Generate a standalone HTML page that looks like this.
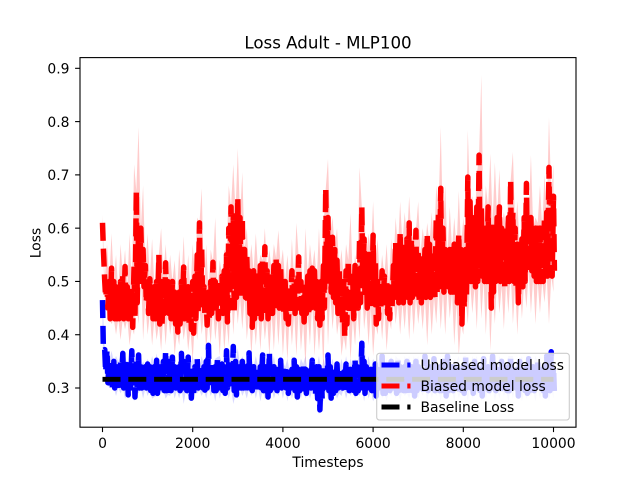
<!DOCTYPE html>
<html>
<head>
<meta charset="utf-8">
<title>Loss Adult - MLP100</title>
<style>
html,body{margin:0;padding:0;background:#fff;width:640px;height:480px;overflow:hidden}
svg{display:block}
text{font-family:"DejaVu Sans","Liberation Sans",sans-serif;fill:#000}
</style>
</head>
<body>
<svg id="chart" xmlns="http://www.w3.org/2000/svg" width="640" height="480" viewBox="0 0 640 480">
  <rect x="0" y="0" width="640" height="480" fill="#fff"/>
  <text x="328" y="48.5" font-size="16.67" text-anchor="middle">Loss Adult - MLP100</text>
  <text x="328" y="467" font-size="13.89" text-anchor="middle">Timesteps</text>
  <text transform="translate(40.5,243) rotate(-90)" font-size="13.89" text-anchor="middle">Loss</text>
  <g id="bands"></g>
  <g id="lines"></g>
  <g id="axes"></g>
  <g>
    <rect x="376.7" y="353.3" width="192.6" height="66.7" rx="2.8" fill="#fff" fill-opacity="0.8" stroke="#ccc" stroke-width="1.1"/>
    <g>
      <path d="M381.5 365H410.5" stroke="#00f" stroke-width="4.9" stroke-dasharray="18 7.8" fill="none"/>
      <text x="420.5" y="370" font-size="13.89">Unbiased model loss</text>
    </g>
    <g>
      <path d="M381.5 386H410.5" stroke="#f00" stroke-width="4.9" stroke-dasharray="18 7.8" fill="none"/>
      <text x="420.5" y="391" font-size="13.89">Biased model loss</text>
    </g>
    <g>
      <path d="M381.5 407H410.5" stroke="#000" stroke-width="4.9" stroke-dasharray="18 7.8" fill="none"/>
      <text x="420.5" y="412" font-size="13.89">Baseline Loss</text>
    </g>
  </g>
</svg>
<script>
const xTicks = [0, 2000, 4000, 6000, 8000, 10000];
const yTicks = [0.3, 0.4, 0.5, 0.6, 0.7, 0.8, 0.9];
const yTickLabels = ["0.3", "0.4", "0.5", "0.6", "0.7", "0.8", "0.9"];
const lineStep = 50;
const baselineValue = 0.3163;
const baselineSpan = [0, 10000];
const biasedHigh = [
.61,.50,.49,.50,.525,.50,.49,.48,.50,.51,.528,.49,.48,.49,.53,.67,.60,.60,.56,.53,
.505,.505,.49,.49,.50,.55,.50,.51,.535,.50,.48,.50,.48,.47,.48,.50,.527,.48,.49,.48,
.50,.51,.55,.61,.56,.49,.47,.48,.50,.536,.50,.49,.50,.51,.52,.55,.60,.64,.62,.63,
.658,.62,.62,.56,.55,.52,.51,.52,.51,.52,.53,.54,.565,.52,.50,.52,.53,.544,.53,.53,
.50,.50,.47,.49,.52,.50,.50,.546,.50,.47,.50,.51,.52,.525,.52,.50,.48,.50,.53,.675,
.62,.59,.583,.56,.54,.52,.50,.50,.52,.54,.51,.50,.53,.52,.58,.64,.58,.55,.56,.55,
.587,.54,.50,.50,.52,.51,.50,.49,.50,.53,.574,.56,.593,.57,.55,.58,.61,.58,.56,.596,
.56,.55,.54,.56,.59,.57,.54,.56,.62,.63,.675,.60,.56,.55,.56,.56,.57,.56,.59,.56,
.55,.56,.696,.65,.62,.60,.64,.737,.64,.60,.60,.64,.60,.61,.60,.62,.64,.60,.56,.60,
.62,.69,.63,.60,.57,.56,.58,.62,.684,.62,.62,.60,.60,.61,.60,.60,.62,.63,.714,.66,.66
];
const biasedLow = [
.56,.47,.45,.43,.44,.43,.43,.43,.44,.43,.44,.43,.43,.414,.43,.46,.50,.53,.49,.46,
.44,.44,.43,.43,.43,.42,.42,.44,.45,.44,.43,.43,.42,.405,.42,.43,.43,.42,.42,.41,
.403,.43,.44,.45,.46,.44,.418,.43,.44,.45,.45,.43,.45,.44,.44,.424,.45,.49,.44,.47,
.50,.47,.48,.47,.46,.44,.414,.43,.44,.44,.43,.44,.44,.43,.44,.44,.45,.45,.45,.45,
.44,.43,.42,.44,.45,.44,.45,.45,.44,.424,.44,.44,.45,.46,.45,.43,.418,.43,.45,.52,
.49,.48,.47,.46,.44,.43,.42,.396,.42,.44,.44,.43,.45,.45,.46,.50,.47,.45,.46,.45,
.46,.42,.43,.45,.46,.45,.44,.43,.45,.47,.47,.46,.48,.46,.47,.47,.46,.47,.47,.47,
.46,.46,.47,.47,.48,.47,.47,.47,.48,.49,.50,.48,.49,.49,.48,.48,.48,.46,.47,.42,
.45,.47,.49,.50,.50,.49,.50,.53,.51,.50,.50,.50,.45,.48,.50,.51,.50,.49,.49,.50,
.50,.52,.50,.49,.46,.50,.49,.50,.52,.52,.52,.51,.50,.50,.50,.50,.51,.51,.54,.51,.52
];
const unbiasedHigh = [
.465,.372,.372,.35,.35,.35,.34,.35,.35,.365,.35,.34,.35,.37,.35,.35,.362,.34,.34,.34,
.345,.34,.33,.34,.352,.34,.34,.35,.37,.35,.35,.358,.34,.33,.34,.365,.35,.34,.358,.34,
.33,.34,.355,.34,.34,.34,.35,.38,.35,.34,.34,.358,.34,.345,.34,.37,.35,.35,.378,.35,
.34,.34,.35,.34,.34,.366,.34,.34,.34,.34,.34,.362,.34,.34,.367,.34,.34,.335,.335,.352,
.34,.34,.33,.33,.335,.352,.34,.335,.33,.345,.335,.33,.34,.352,.34,.34,.34,.33,.34,.34,
.362,.34,.335,.33,.345,.335,.335,.33,.345,.335,.335,.34,.355,.34,.335,.384,.35,.34,.33,.335,
.335,.345,.335,.34,.36,.34,.335,.34,.35,.335,.335,.355,.34,.335,.34,.35,.34,.34,.335,.35,
.34,.335,.34,.36,.34,.34,.335,.355,.34,.335,.34,.35,.34,.36,.34,.34,.335,.35,.34,.335,
.34,.36,.34,.34,.335,.35,.34,.335,.34,.355,.34,.34,.335,.36,.34,.335,.34,.35,.34,.335,
.34,.36,.34,.34,.335,.35,.34,.335,.34,.355,.34,.34,.335,.35,.34,.335,.34,.36,.34,.368,.34
];
const unbiasedLow = [
.37,.33,.31,.30,.30,.30,.296,.30,.30,.30,.30,.287,.30,.30,.283,.295,.30,.30,.30,.30,
.30,.295,.29,.283,.29,.30,.30,.295,.295,.287,.295,.30,.30,.295,.295,.30,.30,.295,.29,.281,
.29,.30,.30,.295,.30,.296,.30,.30,.30,.295,.295,.30,.30,.295,.29,.30,.30,.30,.295,.287,
.30,.30,.30,.295,.30,.30,.295,.30,.29,.30,.30,.295,.29,.283,.295,.30,.30,.295,.30,.30,
.295,.30,.29,.30,.30,.295,.283,.295,.29,.30,.29,.30,.30,.295,.285,.28,.259,.28,.295,.295,
.295,.281,.29,.295,.30,.29,.30,.30,.295,.295,.30,.295,.29,.295,.30,.30,.29,.30,.295,.295,
.295,.285,.30,.295,.29,.29,.30,.295,.30,.295,.29,.295,.30,.295,.295,.29,.30,.295,.285,.295,
.30,.295,.29,.30,.295,.30,.29,.295,.30,.295,.295,.30,.285,.295,.30,.295,.295,.30,.29,.295,
.29,.30,.295,.30,.29,.295,.30,.295,.285,.295,.30,.295,.295,.30,.295,.295,.29,.30,.295,.295,
.295,.30,.295,.30,.285,.295,.30,.295,.29,.295,.30,.295,.295,.30,.295,.295,.285,.30,.295,.30,.29
];
const biasedUpper = [
.625,.57,.59,.55,.57,.56,.59,.72,.79,.68,.59,.58,.55,.60,.57,.55,.54,.56,.585,.55,
.57,.62,.675,.57,.56,.62,.54,.56,.68,.72,.75,.705,.60,.57,.59,.55,.60,.56,.57,.596,
.56,.55,.58,.61,.55,.60,.57,.56,.60,.60,.73,.62,.60,.56,.57,.628,.55,.714,.63,.59,
.65,.58,.55,.57,.58,.62,.65,.63,.66,.59,.65,.60,.61,.63,.68,.79,.68,.64,.62,.67,
.62,.784,.66,.70,.887,.68,.74,.724,.71,.63,.66,.743,.65,.62,.66,.737,.62,.68,.70,.808,.72
];
const biasedLower = [
.59,.46,.42,.40,.39,.41,.38,.40,.42,.39,.40,.38,.39,.37,.38,.40,.36,.38,.39,.37,
.35,.39,.40,.37,.38,.39,.36,.37,.38,.40,.42,.41,.39,.36,.38,.37,.39,.36,.37,.38,
.36,.35,.38,.36,.37,.34,.38,.36,.37,.33,.38,.41,.40,.36,.37,.35,.38,.39,.41,.38,
.36,.40,.39,.37,.41,.42,.40,.41,.39,.40,.42,.41,.38,.40,.42,.41,.40,.43,.38,.36,
.40,.42,.44,.41,.43,.40,.37,.42,.44,.41,.44,.42,.40,.43,.45,.44,.42,.44,.46,.42,.48
];
const unbiasedUpper = [
.47,.375,.37,.36,.36,.365,.355,.355,.36,.35,.355,.36,.365,.35,.36,.365,.355,.36,.36,.365,
.36,.355,.36,.38,.355,.355,.36,.365,.36,.38,.375,.36,.365,.355,.36,.36,.36,.37,.36,.355,
.35,.355,.36,.355,.355,.36,.355,.355,.36,.355,.36,.355,.35,.355,.36,.355,.355,.38,.39,.36,
.355,.36,.36,.355,.36,.36,.355,.36,.36,.36,.36,.355,.36,.36,.36,.355,.36,.36,.355,.36,
.36,.355,.36,.36,.355,.36,.36,.36,.36,.355,.36,.36,.355,.36,.36,.355,.36,.36,.355,.37,.355
];
const unbiasedLower = [
.39,.31,.30,.285,.29,.28,.285,.275,.29,.28,.285,.28,.285,.29,.28,.285,.28,.28,.27,.285,
.28,.29,.285,.28,.285,.275,.28,.285,.28,.27,.28,.285,.28,.285,.28,.275,.28,.285,.28,.285,
.28,.275,.28,.275,.28,.28,.28,.285,.25,.275,.28,.285,.28,.285,.28,.285,.28,.285,.275,.28,
.275,.285,.28,.275,.285,.28,.275,.285,.28,.275,.28,.285,.275,.28,.285,.275,.28,.285,.275,.28,
.285,.275,.28,.285,.275,.28,.285,.275,.28,.285,.275,.28,.285,.275,.28,.285,.275,.28,.285,.275,.28
];

const plotLeft = 80, plotRight = 576, plotTop = 57.6, plotBottom = 427.2;
const NS = "http://www.w3.org/2000/svg";
function xScale(t) { return 102.5 + (t / 10000) * 451; }
function yScale(v) { return 388 - (v - 0.3) * 532.8; }
function sweepPath(high, low, step) {
  let d = "";
  for (let i = 0; i < high.length; i++) {
    d += (i ? "L" : "M") + xScale(i * step).toFixed(2) + " " + yScale(high[i]).toFixed(2);
    d += "L" + xScale((i + 0.4) * step).toFixed(2) + " " + yScale(low[i]).toFixed(2);
  }
  return d;
}
function edgePoints(spikes, valleys, step) {
  const pts = [];
  for (let i = 0; i < valleys.length; i++) {
    const v = i % 2 === 0 ? spikes[i / 2] : valleys[i];
    pts.push(xScale(i * step).toFixed(2) + " " + yScale(v).toFixed(2));
  }
  return pts;
}
function stripeBand(upper, high, lower, low, step) {
  const top = edgePoints(upper, high, step);
  const bottom = edgePoints(lower, low, step).reverse();
  return "M" + top.concat(bottom).join("L") + "Z";
}
function make(tag, parent) {
  const el = document.createElementNS(NS, tag);
  parent.appendChild(el);
  return el;
}
const bands = document.getElementById("bands");
const lines = document.getElementById("lines");
const axes = document.getElementById("axes");

const blueBand = make("path", bands);


blueBand.setAttribute("d", stripeBand(unbiasedUpper, unbiasedHigh, unbiasedLower, unbiasedLow, lineStep));
blueBand.setAttribute("fill", "#00f");
blueBand.setAttribute("fill-opacity", "0.15");

const redBand = make("path", bands);


redBand.setAttribute("d", stripeBand(biasedUpper, biasedHigh, biasedLower, biasedLow, lineStep));
redBand.setAttribute("fill", "#f00");
redBand.setAttribute("fill-opacity", "0.2");

const blueLine = make("path", lines);


blueLine.setAttribute("d", sweepPath(unbiasedHigh, unbiasedLow, lineStep));

const redLine = make("path", lines);


redLine.setAttribute("d", sweepPath(biasedHigh, biasedLow, lineStep));

const baseLine = make("path", lines);


baseLine.setAttribute("d", "M" + xScale(baselineSpan[0]) + " " + yScale(baselineValue) + "L" + xScale(baselineSpan[1]) + " " + yScale(baselineValue));

[[blueLine, "#00f", "5.5"], [redLine, "#f00", "5.5"], [baseLine, "#000", "4.9"]].forEach(function (item) {
  item[0].setAttribute("fill", "none");
  item[0].setAttribute("stroke", item[1]);
  item[0].setAttribute("stroke-width", item[2]);
  item[0].setAttribute("stroke-dasharray", "18 7.8");
  item[0].setAttribute("stroke-linejoin", "round");
});

xTicks.forEach(function (t) {
  const tick = make("line", axes);
  
  
  tick.setAttribute("x1", xScale(t));
  tick.setAttribute("x2", xScale(t));
  tick.setAttribute("y1", plotBottom);
  tick.setAttribute("y2", plotBottom + 4.9);
  tick.setAttribute("stroke", "#000");
  tick.setAttribute("stroke-width", "1.1");
  const label = make("text", axes);
  
  
  label.setAttribute("x", xScale(t));
  label.setAttribute("y", 448);
  label.setAttribute("font-size", "13.89");
  label.setAttribute("text-anchor", "middle");
  label.textContent = String(t);
});

yTicks.forEach(function (v, i) {
  const tick = make("line", axes);
  
  
  tick.setAttribute("x1", plotLeft - 4.9);
  tick.setAttribute("x2", plotLeft);
  tick.setAttribute("y1", yScale(v));
  tick.setAttribute("y2", yScale(v));
  tick.setAttribute("stroke", "#000");
  tick.setAttribute("stroke-width", "1.1");
  const label = make("text", axes);
  
  
  label.setAttribute("x", 69.5);
  label.setAttribute("y", yScale(v) + 5.2);
  label.setAttribute("font-size", "13.89");
  label.setAttribute("text-anchor", "end");
  label.textContent = yTickLabels[i];
});

const frame = make("rect", axes);


frame.setAttribute("x", plotLeft);
frame.setAttribute("y", plotTop);
frame.setAttribute("width", plotRight - plotLeft);
frame.setAttribute("height", plotBottom - plotTop);
frame.setAttribute("fill", "none");
frame.setAttribute("stroke", "#000");
frame.setAttribute("stroke-width", "1.1");
</script>
</body>
</html>
